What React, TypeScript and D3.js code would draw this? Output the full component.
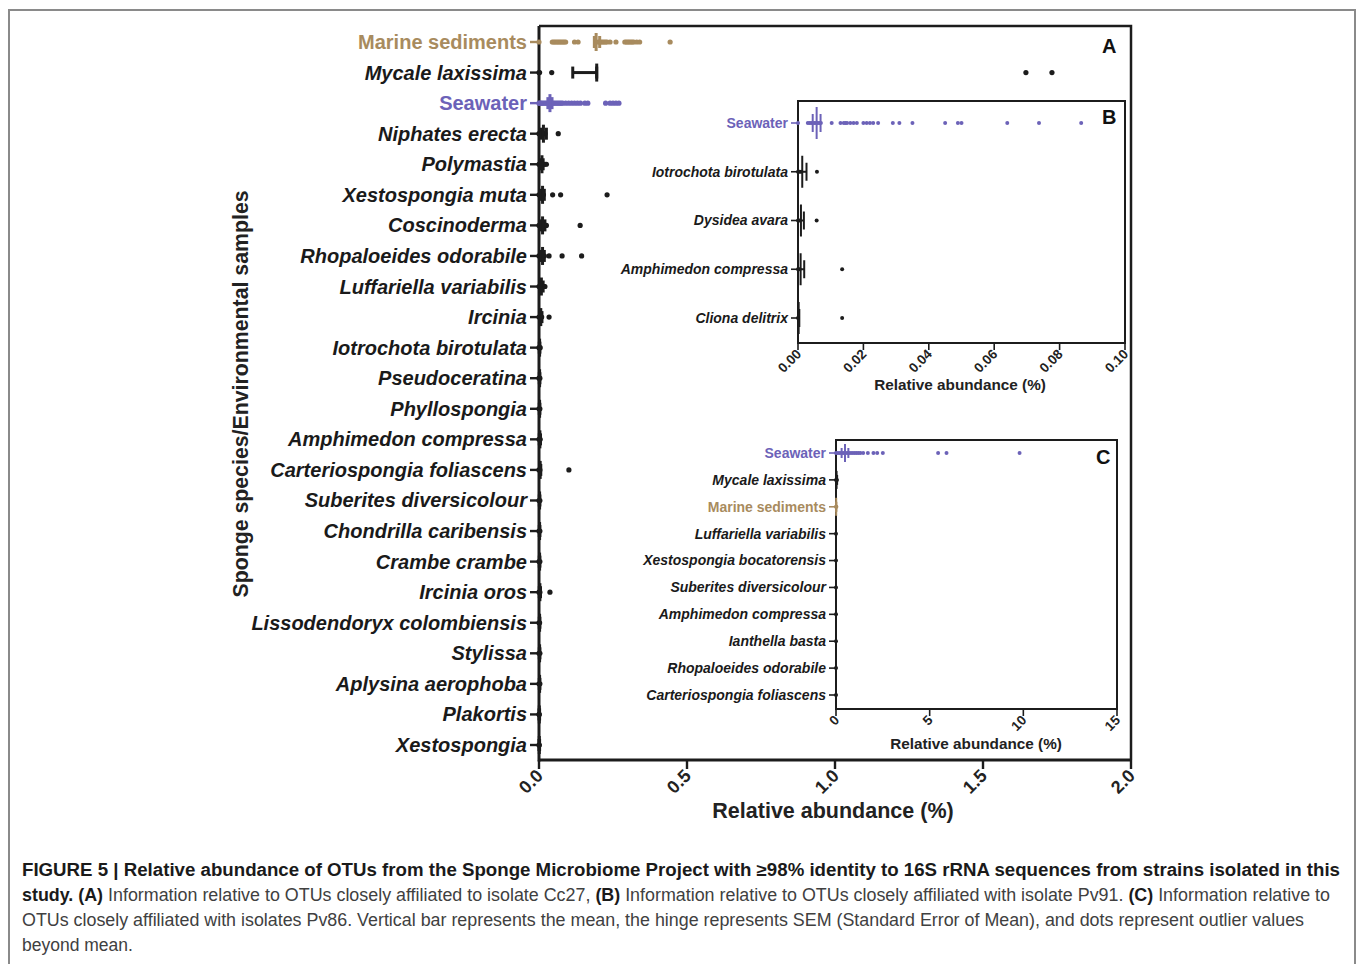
import { useEffect, useRef } from 'react';
import * as d3 from 'd3';

const TAN = '#a88b5e';
const PURPLE = '#6c62b8';
const INK = '#1c1c1c';
const envSamples = ['Marine sediments', 'Seawater'];

// Panel A (Cc27)
const catsA = [
  'Marine sediments', 'Mycale laxissima', 'Seawater', 'Niphates erecta', 'Polymastia',
  'Xestospongia muta', 'Coscinoderma', 'Rhopaloeides odorabile', 'Luffariella variabilis',
  'Ircinia', 'Iotrochota birotulata', 'Pseudoceratina', 'Phyllospongia', 'Amphimedon compressa',
  'Carteriospongia foliascens', 'Suberites diversicolour', 'Chondrilla caribensis', 'Crambe crambe',
  'Ircinia oros', 'Lissodendoryx colombiensis', 'Stylissa', 'Aplysina aerophoba', 'Plakortis',
  'Xestospongia'
];
const dotsA = [
  [0, 0.045, 0.05, 0.055, 0.06, 0.065, 0.07, 0.075, 0.08, 0.085, 0.09, 0.12, 0.132, 0.2, 0.205, 0.21,
    0.215, 0.22, 0.225, 0.23, 0.24, 0.26, 0.29, 0.295, 0.3, 0.305, 0.31, 0.315, 0.32, 0.33, 0.34, 0.443],
  [0, 0.002, 0.043, 1.645, 1.733],
  [0, 0.003, 0.006, 0.01, 0.015, 0.02, 0.025, 0.03, 0.035, 0.04, 0.045, 0.05, 0.055, 0.06, 0.065, 0.07,
    0.075, 0.08, 0.09, 0.1, 0.11, 0.12, 0.13, 0.14, 0.155, 0.165, 0.225, 0.24, 0.25, 0.26, 0.27],
  [0, 0.003, 0.006, 0.01, 0.015, 0.02, 0.065],
  [0, 0.002, 0.004, 0.006, 0.008, 0.01, 0.012, 0.015, 0.02, 0.025],
  [0, 0.003, 0.006, 0.01, 0.015, 0.046, 0.073, 0.23],
  [0, 0.005, 0.01, 0.015, 0.02, 0.025, 0.139],
  [0, 0.004, 0.008, 0.012, 0.018, 0.034, 0.078, 0.144],
  [0, 0.004, 0.008, 0.012, 0.018, 0.02],
  [0, 0.003, 0.006, 0.009, 0.034],
  [0, 0.002, 0.004],
  [0, 0.003],
  [0, 0.003],
  [0, 0.004],
  [0, 0.003, 0.101],
  [0, 0.003],
  [0, 0.003],
  [0, 0.003],
  [0, 0.003, 0.037],
  [0, 0.002],
  [0, 0.003],
  [0, 0.003],
  [0, 0.001],
  [0, 0.001]
];
const meanA = [0.193, 0.195, 0.037, 0.015, 0.01, 0.012, 0.012, 0.012, 0.008, 0.006, 0.002, 0.002, 0.002,
  0.003, 0.004, 0.002, 0.002, 0.002, 0.003, 0.002, 0.002, 0.002, 0.001, 0.001];
const semLoA = [0.187, 0.114, 0.03, 0.008, 0.006, 0.006, 0.006, 0.006, 0.004, 0.003, 0.001, 0.001, 0.001,
  0.001, 0.002, 0.001, 0.001, 0.001, 0.001, 0.001, 0.001, 0.001, 0, 0];
const semHiA = [0.205, 0.195, 0.044, 0.025, 0.014, 0.018, 0.02, 0.018, 0.014, 0.01, 0.003, 0.003, 0.003,
  0.005, 0.006, 0.003, 0.003, 0.003, 0.005, 0.003, 0.003, 0.003, 0.002, 0.002];
const ticksA = [0, 0.5, 1, 1.5, 2];

// Panel B (Pv91)
const catsB = ['Seawater', 'Iotrochota birotulata', 'Dysidea avara', 'Amphimedon compressa', 'Cliona delitrix'];
const dotsB = [
  [0, 0.003, 0.0035, 0.004, 0.0045, 0.005, 0.0055, 0.006, 0.0065, 0.007, 0.0103, 0.013, 0.014, 0.0145,
    0.015, 0.016, 0.017, 0.018, 0.02, 0.021, 0.022, 0.023, 0.0245, 0.029, 0.031, 0.035, 0.045, 0.0489,
    0.05, 0.064, 0.0737, 0.0866],
  [0, 0.0005, 0.001, 0.0058],
  [0, 0.0005, 0.0057],
  [0, 0.0005, 0.0135],
  [0, 0.0135]
];
const meanB = [0.0057, 0.0013, 0.0009, 0.0008, 0.0002];
const semLoB = [0.0045, 0, 0, 0, 0];
const semHiB = [0.0069, 0.0026, 0.0018, 0.0019, 0.0004];
const ticksB = [0, 0.02, 0.04, 0.06, 0.08, 0.1];

// Panel C (Pv86)
const catsC = ['Seawater', 'Mycale laxissima', 'Marine sediments', 'Luffariella variabilis',
  'Xestospongia bocatorensis', 'Suberites diversicolour', 'Amphimedon compressa', 'Ianthella basta',
  'Rhopaloeides odorabile', 'Carteriospongia foliascens'];
const dotsC = [
  [0, 0.1, 0.2, 0.3, 0.4, 0.5, 0.6, 0.7, 0.8, 0.9, 1.0, 1.1, 1.2, 1.3, 1.45, 1.7, 2.0, 2.2, 2.5, 5.45, 5.9, 9.8],
  [0, 0.05], [0, 0.02], [0], [0], [0], [0], [0], [0], [0]
];
const meanC = [0.48, 0.03, 0.01, 0, 0, 0, 0, 0, 0, 0];
const semLoC = [0.3, 0, 0, 0, 0, 0, 0, 0, 0, 0];
const semHiC = [0.66, 0.06, 0.02, 0, 0, 0, 0, 0, 0, 0];
const ticksC = [0, 5, 10, 15];

const captionLines = [
  [['b', 'FIGURE 5 | Relative abundance of OTUs from the Sponge Microbiome Project with ≥98% identity to 16S rRNA sequences from strains isolated in this']],
  [['b', 'study. (A) '], ['n', 'Information relative to OTUs closely affiliated to isolate Cc27, '], ['b', '(B) '],
    ['n', 'Information relative to OTUs closely affiliated with isolate Pv91. '], ['b', '(C) '], ['n', 'Information relative to']],
  [['n', 'OTUs closely affiliated with isolates Pv86. Vertical bar represents the mean, the hinge represents SEM (Standard Error of Mean), and dots represent outlier values']],
  [['n', 'beyond mean.']]
];
const captionWidths = [1318, 1308, 1282, 0];

const FONT = '"Liberation Sans", Arial, Helvetica, sans-serif';

const rowColor = (c: string) => (c === 'Seawater' ? PURPLE : c === 'Marine sediments' ? TAN : INK);

function drawPanel(svg: any, p: any) {
  const g = svg.append('g');
  const x = d3.scaleLinear().domain(p.domain).range([p.left, p.right]);
  const y = d3.scalePoint().domain(p.cats).range(p.rows);

  if (p.inset) {
    g.append('rect').attr('x', p.left).attr('y', p.top)
      .attr('width', p.right - p.left).attr('height', p.bottom - p.top)
      .attr('fill', 'white').attr('stroke', INK).attr('stroke-width', p.frameW);
  } else {
    g.append('path')
      .attr('d', `M${p.left},${p.top}H${p.right}V${p.bottom}`)
      .attr('fill', 'none').attr('stroke', INK).attr('stroke-width', p.frameW);
  }
  // axes
  g.append('line').attr('x1', p.left).attr('x2', p.left).attr('y1', p.top).attr('y2', p.bottom + p.axisW / 2)
    .attr('stroke', INK).attr('stroke-width', p.axisW);
  g.append('line').attr('x1', p.left).attr('x2', p.right).attr('y1', p.bottom).attr('y2', p.bottom)
    .attr('stroke', INK).attr('stroke-width', p.axisW);

  // x ticks
  const xt = g.append('g').selectAll('g').data(p.ticks).join('g');
  xt.append('line').attr('x1', (d: number) => x(d)).attr('x2', (d: number) => x(d))
    .attr('y1', p.bottom).attr('y2', p.bottom + p.tickLen)
    .attr('stroke', INK).attr('stroke-width', p.axisW * 0.8);
  xt.append('text')
    .attr('transform', (d: number) => `translate(${x(d) + p.tickDx},${p.bottom + p.tickLen + p.tickDy}) rotate(-45)`)
    .attr('text-anchor', 'end')
    .attr('font-family', FONT).attr('font-weight', 'bold').attr('font-size', p.tickFont)
    .attr('fill', '#222')
    .text((d: number) => d3.format(p.fmt)(d));

  g.append('text')
    .attr('x', p.titleX).attr('y', p.titleY).attr('text-anchor', 'middle')
    .attr('font-family', FONT).attr('font-weight', 'bold').attr('font-size', p.titleFont)
    .attr('fill', '#222').text('Relative abundance (%)');

  // y ticks and labels
  const yt = g.append('g').selectAll('g').data(p.cats).join('g');
  yt.append('line').attr('x1', p.left - p.tickLen).attr('x2', p.left)
    .attr('y1', (d: string) => y(d)).attr('y2', (d: string) => y(d))
    .attr('stroke', (d: string) => rowColor(d)).attr('stroke-width', p.axisW * 0.8);
  yt.append('text')
    .attr('x', p.left - p.tickLen - 3).attr('y', (d: string) => y(d)).attr('dy', '0.35em')
    .attr('text-anchor', 'end')
    .attr('font-family', FONT).attr('font-weight', 'bold').attr('font-size', p.labelFont)
    .attr('font-style', (d: string) => (envSamples.includes(d) ? 'normal' : 'italic'))
    .attr('fill', (d: string) => (envSamples.includes(d) ? rowColor(d) : '#1a1a1a'))
    .text((d: string) => d);

  // rows: dots, mean bar and SEM hinge
  p.cats.forEach((c: string, i: number) => {
    const cy = y(c);
    const col = rowColor(c);
    g.append('g').selectAll('circle').data(p.dots[i]).join('circle')
      .attr('cx', (d: number) => x(d)).attr('cy', cy).attr('r', p.dotR).attr('fill', col);
    const lo = x(p.lo[i]), hi = x(p.hi[i]), m = x(p.mean[i]);
    g.append('line').attr('x1', lo).attr('x2', hi).attr('y1', cy).attr('y2', cy)
      .attr('stroke', col).attr('stroke-width', p.semW);
    [lo, hi].forEach((v) => {
      g.append('line').attr('x1', v).attr('x2', v).attr('y1', cy - p.capHalf).attr('y2', cy + p.capHalf)
        .attr('stroke', col).attr('stroke-width', p.semW);
    });
    g.append('line').attr('x1', m).attr('x2', m).attr('y1', cy - p.meanHalf).attr('y2', cy + p.meanHalf)
      .attr('stroke', col).attr('stroke-width', p.semW);
  });

  g.append('text').attr('x', p.letterX).attr('y', p.letterY)
    .attr('font-family', FONT).attr('font-weight', 'bold').attr('font-size', 20)
    .attr('fill', '#111').text(p.letter);
}

const App = () => {
  const ref = useRef<SVGSVGElement>(null);

  useEffect(() => {
    const svg = d3.select(ref.current);
    svg.selectAll('*').remove();

    // outer figure frame
    svg.append('path').attr('d', 'M9,990V10H1355V990')
      .attr('fill', 'none').attr('stroke', '#8a8a8a').attr('stroke-width', 2);

    drawPanel(svg, {
      cats: catsA, dots: dotsA, mean: meanA, lo: semLoA, hi: semHiA, ticks: ticksA, fmt: '.1f',
      left: 539, right: 1131, top: 26, bottom: 760, rows: [42, 745], domain: [0, 2],
      labelFont: 20, tickFont: 18, titleFont: 21.5, titleX: 833, titleY: 818,
      tickLen: 9, tickDx: 5, tickDy: 8, dotR: 2.6, meanHalf: 9, capHalf: 6, semW: 3,
      axisW: 3, frameW: 2.5, letter: 'A', letterX: 1102, letterY: 53
    });

    svg.append('text')
      .attr('transform', 'translate(248,394) rotate(-90)')
      .attr('text-anchor', 'middle')
      .attr('font-family', FONT).attr('font-weight', 'bold').attr('font-size', 21.3)
      .attr('fill', '#222').text('Sponge species/Environmental samples');

    drawPanel(svg, {
      cats: catsB, dots: dotsB, mean: meanB, lo: semLoB, hi: semHiB, ticks: ticksB, fmt: '.2f',
      left: 798, right: 1125, top: 101, bottom: 343, rows: [123, 318], domain: [0, 0.1], inset: true,
      labelFont: 14, tickFont: 13.5, titleFont: 15.3, titleX: 960, titleY: 390,
      tickLen: 7, tickDx: 4, tickDy: 5, dotR: 2, meanHalf: 16, capHalf: 9, semW: 2,
      axisW: 2, frameW: 2, letter: 'B', letterX: 1102, letterY: 124
    });

    drawPanel(svg, {
      cats: catsC, dots: dotsC, mean: meanC, lo: semLoC, hi: semHiC, ticks: ticksC, fmt: 'd',
      left: 836, right: 1117, top: 440, bottom: 709, rows: [453, 695], domain: [0, 15], inset: true,
      labelFont: 14, tickFont: 13.5, titleFont: 15.3, titleX: 976, titleY: 749,
      tickLen: 7, tickDx: 4, tickDy: 5, dotR: 2, meanHalf: 9, capHalf: 5, semW: 2,
      axisW: 2, frameW: 2, letter: 'C', letterX: 1096, letterY: 464
    });

    // caption
    const cap = svg.append('g');
    captionLines.forEach((line, i) => {
      const t = cap.append('text').attr('x', 22).attr('y', 876 + i * 25)
        .attr('font-family', FONT).attr('font-size', 17.5);
      if (captionWidths[i]) t.attr('textLength', captionWidths[i]).attr('lengthAdjust', 'spacingAndGlyphs');
      line.forEach(([w, s]) => {
        t.append('tspan')
          .attr('font-weight', w === 'b' ? 'bold' : 'normal')
          .attr('fill', w === 'b' ? '#1a1a1a' : '#404040')
          .text(s);
      });
    });
  }, []);

  return (
    <svg ref={ref} width={1358} height={964}
      style={{ position: 'absolute', left: 0, top: 0, background: 'white' }} />
  );
};

export default App;
